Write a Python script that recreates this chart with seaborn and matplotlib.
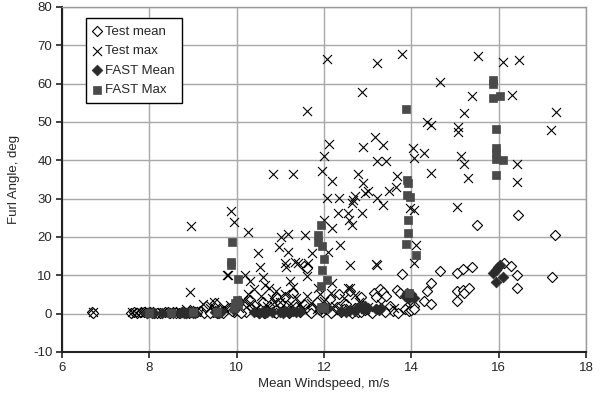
import matplotlib
matplotlib.use("Agg")
import matplotlib.pyplot as plt
import seaborn as sns
import numpy as np
import pandas as pd

# ---------------- data ----------------
test_mean_x = [6.68, 6.72, 7.58, 7.65, 7.72, 7.80, 7.88, 7.95, 8.02, 8.10, 8.25, 8.35, 8.48, 8.55, 8.62,
               8.75, 8.85, 8.95, 9.05, 9.15, 9.25, 9.32, 9.45, 9.55, 9.62, 9.72, 9.85, 9.95, 10.05, 10.15,
               10.22, 10.35, 10.45, 10.55, 10.62, 10.75, 10.85, 10.95, 11.05, 11.15, 11.25, 11.35, 11.45,
               11.55, 11.65, 11.75, 11.85, 11.95, 12.05, 12.13, 12.2, 12.3, 12.4, 12.5, 12.6, 12.7, 12.78,
               12.85, 12.9, 12.95, 13.05, 13.14, 13.18, 13.2, 13.29, 13.35, 13.43, 13.5, 13.58, 13.67, 13.75,
               13.79, 13.85, 13.95, 14.0, 14.06, 14.06, 14.29, 14.36, 14.46, 14.46, 14.65, 15.04, 15.05, 15.05,
               15.19, 15.19, 15.2, 15.32, 15.4, 15.51, 16.12, 16.29, 16.43, 16.43, 16.45, 17.21, 17.3,
               10.9, 11.1, 11.3, 11.0, 10.6, 10.4, 11.55, 11.6, 12.35, 12.6, 9.3, 9.5, 10.3,
               8.18, 8.42, 8.68, 8.9, 9.1, 9.38, 9.68, 9.9, 10.1, 10.5, 10.7, 10.9, 11.2, 11.4,
               11.7, 11.9, 12.15, 12.45, 12.65, 12.85, 13.1, 13.4, 13.7]
test_mean_y = [0.4, 0.3, 0.3, 0.4, 0.3, 0.4, 0.5, 0.3, 0.4, 0.2, 0.3, 0.4, 0.2, 0.4, 0.3,
               0.5, 0.3, 0.6, 0.4, 0.8, 0.3, 1.2, 0.5, 0.3, 0.9, 0.6, 1.5, 0.4, 0.7, 1.1,
               0.4, 1.8, 0.6, 1.2, 0.3, 2.0, 0.5, 1.4, 0.8, 2.3, 0.6, 1.7, 0.4,
               2.5, 0.7, 1.5, 3.0, 0.5, 1.2, 3.7, 0.6, 1.8, 0.4, 2.4, 0.8, 1.5, 0.5,
               4.3, 2.0, 1.0, 0.6, 5.4, 4.3, 1.2, 6.5, 5.6, 4.5, 1.9, 0.8, 6.1, 5.4,
               10.4, 1.2, 0.6, 0.9, 1.9, 1.3, 3.3, 5.9, 8.0, 2.6, 11.0, 3.2, 5.9, 10.6,
               11.7, 6.1, 5.4, 6.7, 12.2, 23.2, 13.1, 12.4, 10.0, 6.7, 25.7, 9.6, 20.4,
               4.3, 4.3, 5.5, 2.8, 3.0, 2.2, 12.5, 11.8, 5.0, 6.0, 2.0, 2.8, 3.5,
               0.2, 0.5, 0.3, 0.2, 0.5, 0.3, 0.2, 0.6, 0.3, 0.2, 0.9, 0.3, 0.2, 1.0,
               0.2, 0.9, 0.3, 1.1, 0.2, 0.4, 0.3, 0.5, 0.2]

test_max_x = [11.62, 12.06, 13.22, 12.86, 13.78, 15.52, 16.11, 16.46, 14.65, 15.40, 16.30, 15.2, 17.31,
              17.2, 14.37, 14.46, 15.06, 15.06, 16.43, 16.43, 13.16, 12.9, 13.34, 12.12, 11.99, 14.03,
              14.05, 14.3, 15.13, 15.2, 13.22, 13.43, 11.96, 12.19, 12.77, 12.9, 12.95, 13.0, 13.68, 14.46,
              15.3, 10.84, 11.3, 13.48, 13.66, 13.22, 13.34, 12.08, 12.35, 12.67, 12.72, 12.65, 12.54,
              12.58, 12.63, 12.33, 12.88, 12.19, 14.05, 13.98, 11.99, 15.04,
              9.88, 9.93, 8.96, 10.27, 11.02, 11.18, 11.57, 10.96, 11.18, 10.49, 11.73, 12.1, 12.37,
              10.54, 11.11, 11.14, 11.34, 11.41, 11.64, 11.62, 12.6, 13.18, 13.22, 12.19, 12.56, 11.23,
              11.87, 9.81, 8.94, 10.6, 10.65, 10.3, 10.4, 10.8, 11.0, 10.2, 14.1, 14.05, 12.59, 9.24,
              9.47, 9.78,
              6.7, 7.6, 7.7, 7.8, 7.9, 8.0, 8.3, 8.5, 8.7, 8.85, 9.0, 9.1, 9.4, 9.6, 9.7, 9.85,
              10.05, 10.15, 10.3, 10.45, 10.55, 10.7, 10.85, 11.0, 11.2, 11.35, 11.5, 11.7, 11.85,
              12.0, 12.25, 12.45, 12.6, 12.8, 13.0, 13.3, 13.6, 13.9, 11.45, 11.9, 12.4, 12.95,
              10.9, 11.1, 11.6, 12.15, 12.7, 10.25, 10.75, 11.3]
test_max_y = [52.8, 66.4, 65.3, 57.8, 67.7, 67.2, 65.6, 66.1, 60.4, 56.7, 57.0, 52.3, 52.5,
              47.9, 49.9, 49.1, 48.6, 47.5, 39.0, 34.3, 46.0, 43.4, 44.0, 44.2, 41.0, 43.2,
              40.6, 41.9, 41.0, 39.0, 39.7, 39.7, 37.2, 34.5, 36.4, 34.0, 31.6, 31.9, 35.9, 36.6,
              35.3, 36.4, 36.4, 31.9, 33.0, 30.1, 28.3, 30.1, 30.1, 29.6, 30.6, 28.8, 26.2,
              24.4, 23.1, 26.2, 26.2, 22.3, 27.0, 27.5, 24.4, 27.8,
              26.7, 23.8, 22.8, 21.2, 19.9, 20.9, 20.6, 17.3, 16.0, 15.7, 15.7, 16.0, 17.8,
              12.3, 13.3, 12.1, 13.6, 13.1, 13.3, 9.7, 12.6, 13.0, 12.6, 7.9, 6.6, 8.4,
              6.6, 10.0, 5.6, 9.5, 7.5, 8.5, 6.5, 4.0, 3.0, 10.2, 17.8, 13.1, 6.8, 2.4,
              3.0, 10.2,
              0.4, 0.4, 0.3, 0.5, 0.4, 0.6, 0.5, 0.4, 0.8, 1.2, 0.6, 1.0, 1.5, 1.0, 1.8, 2.2,
              1.5, 3.5, 2.8, 1.5, 4.5, 2.0, 3.0, 1.2, 2.2, 4.0, 1.5, 2.8, 1.2,
              3.2, 2.0, 4.0, 1.5, 3.0, 1.8, 2.5, 1.5, 3.0, 2.6, 5.2, 1.0, 1.2,
              6.0, 5.0, 4.5, 5.5, 4.8, 5.2, 6.8, 7.0]

fast_mean_x = [7.95, 8.0, 8.05, 8.1, 8.3, 8.45, 8.55, 8.7, 8.8, 8.9, 9.0, 9.5, 9.55, 9.6, 9.65,
               9.95, 10.0, 10.05, 10.4, 10.6, 10.7, 10.8, 11.0, 11.1, 11.3, 11.45, 11.9, 12.0, 12.1,
               12.4, 12.6, 12.75, 12.85, 12.95, 13.2, 13.3, 13.85, 13.9, 13.95, 14.0, 14.05,
               15.88, 15.93, 15.98, 16.02, 15.95, 16.1,
               8.75, 8.85, 8.95, 9.05, 9.58, 10.5, 10.65, 11.05, 11.2, 11.35, 12.5, 12.7, 12.9, 13.0,
               13.25]
fast_mean_y = [0.3, 0.4, 0.2, 0.3, 0.2, 0.3, 0.2, 0.3, 0.2, 0.4, 0.3, 0.4, 0.6, 0.3, 0.5,
               1.0, 2.5, 3.0, 0.5, 0.6, 0.4, 0.5, 0.5, 0.7, 0.6, 0.8, 1.5, 1.6, 1.4,
               0.8, 1.0, 1.4, 1.8, 2.0, 1.2, 1.5, 4.5, 5.5, 4.0, 5.0, 4.2,
               10.5, 11.5, 12.3, 12.8, 8.3, 9.5,
               0.5, 0.3, 0.5, 0.2, 0.2, 0.3, 0.3, 0.3, 0.4, 0.4, 0.5, 0.6, 1.2, 1.4,
               0.9]

fast_max_x = [9.9, 9.88, 9.88, 10.02, 10.0, 9.97, 10.02, 9.95,
              11.93, 11.87, 11.87, 11.96, 12.01, 11.96, 12.06, 11.93, 11.93, 12.0,
              13.88, 13.9, 13.93, 13.9, 13.97, 13.93, 13.93, 13.87, 14.1, 13.95,
              15.88, 15.88, 16.02, 15.88, 15.95, 15.95, 15.95, 15.95, 16.1, 15.93,
              8.0, 8.5, 9.0, 9.55]
fast_max_y = [18.8, 13.6, 12.6, 9.0, 3.5, 2.8, 2.2, 1.5,
              23.1, 20.5, 18.7, 17.6, 14.2, 11.3, 8.7, 7.1, 1.7, 1.6,
              53.5, 34.8, 34.1, 30.9, 30.4, 24.5, 21.1, 18.1, 15.4, 5.5,
              61.0, 60.0, 56.7, 56.2, 48.1, 43.1, 42.0, 40.3, 40.0, 36.1,
              0.3, 0.3, 0.4, 0.5]

x_ticks = [6, 8, 10, 12, 14, 16, 18]
y_ticks = [-10, 0, 10, 20, 30, 40, 50, 60, 70, 80]

# ---------------- plot ----------------
sns.set_style("white")
plt.rcParams['font.family'] = ['Liberation Sans', 'DejaVu Sans']
plt.rcParams['font.size'] = 9.5

fig = plt.figure(figsize=(6.01, 3.96), dpi=100)
ax = fig.add_axes([62/601, 1 - 352/396, (586 - 62)/601, (352 - 7)/396])

sns.scatterplot(x=test_mean_x, y=test_mean_y, ax=ax, marker='D', s=27,
                color='black', facecolor='white', edgecolor='black', linewidth=0.8,
                label='Test mean', zorder=3)
sns.scatterplot(x=test_max_x, y=test_max_y, ax=ax, marker='x', s=42,
                color='black', linewidth=0.8, label='Test max', zorder=4)
sns.scatterplot(x=fast_mean_x, y=fast_mean_y, ax=ax, marker='D', s=30,
                color='#2b2b2b', edgecolor='#2b2b2b', linewidth=0.5,
                label='FAST Mean', zorder=5)
sns.scatterplot(x=fast_max_x, y=fast_max_y, ax=ax, marker='s', s=32,
                color='#4a4a4a', edgecolor='#4a4a4a', linewidth=0.5,
                label='FAST Max', zorder=6)

ax.set_xlim(6, 18)
ax.set_ylim(-10, 80)
ax.set_xticks(x_ticks)
ax.set_yticks(y_ticks)
ax.set_xticklabels([str(t) for t in x_ticks])
ax.set_yticklabels([str(t) for t in y_ticks])
ax.grid(True, color='#a8a8a8', linewidth=1.0)
ax.set_axisbelow(True)

for side in ['top', 'right']:
    ax.spines[side].set_color('#9a9a9a')
    ax.spines[side].set_linewidth(1.0)
for side in ['left', 'bottom']:
    ax.spines[side].set_color('#222222')
    ax.spines[side].set_linewidth(1.5)

ax.tick_params(axis='both', which='major', direction='out', length=4, width=1.2,
               color='#222222', labelsize=9.5, pad=3, left=True, bottom=True)

ax.set_xlabel('Mean Windspeed, m/s', fontsize=9.5, labelpad=3)
ax.set_ylabel('Furl Angle, deg', fontsize=9.5, labelpad=9)

leg = ax.legend(loc='upper left', bbox_to_anchor=(0.046, 0.968), frameon=True,
                fancybox=False, edgecolor='black', framealpha=1, fontsize=9.5,
                handlelength=0.6, handletextpad=0.3, labelspacing=0.55,
                borderpad=0.55, borderaxespad=0)
leg.get_frame().set_linewidth(1.0)

fig.savefig('out.png', dpi=100)
